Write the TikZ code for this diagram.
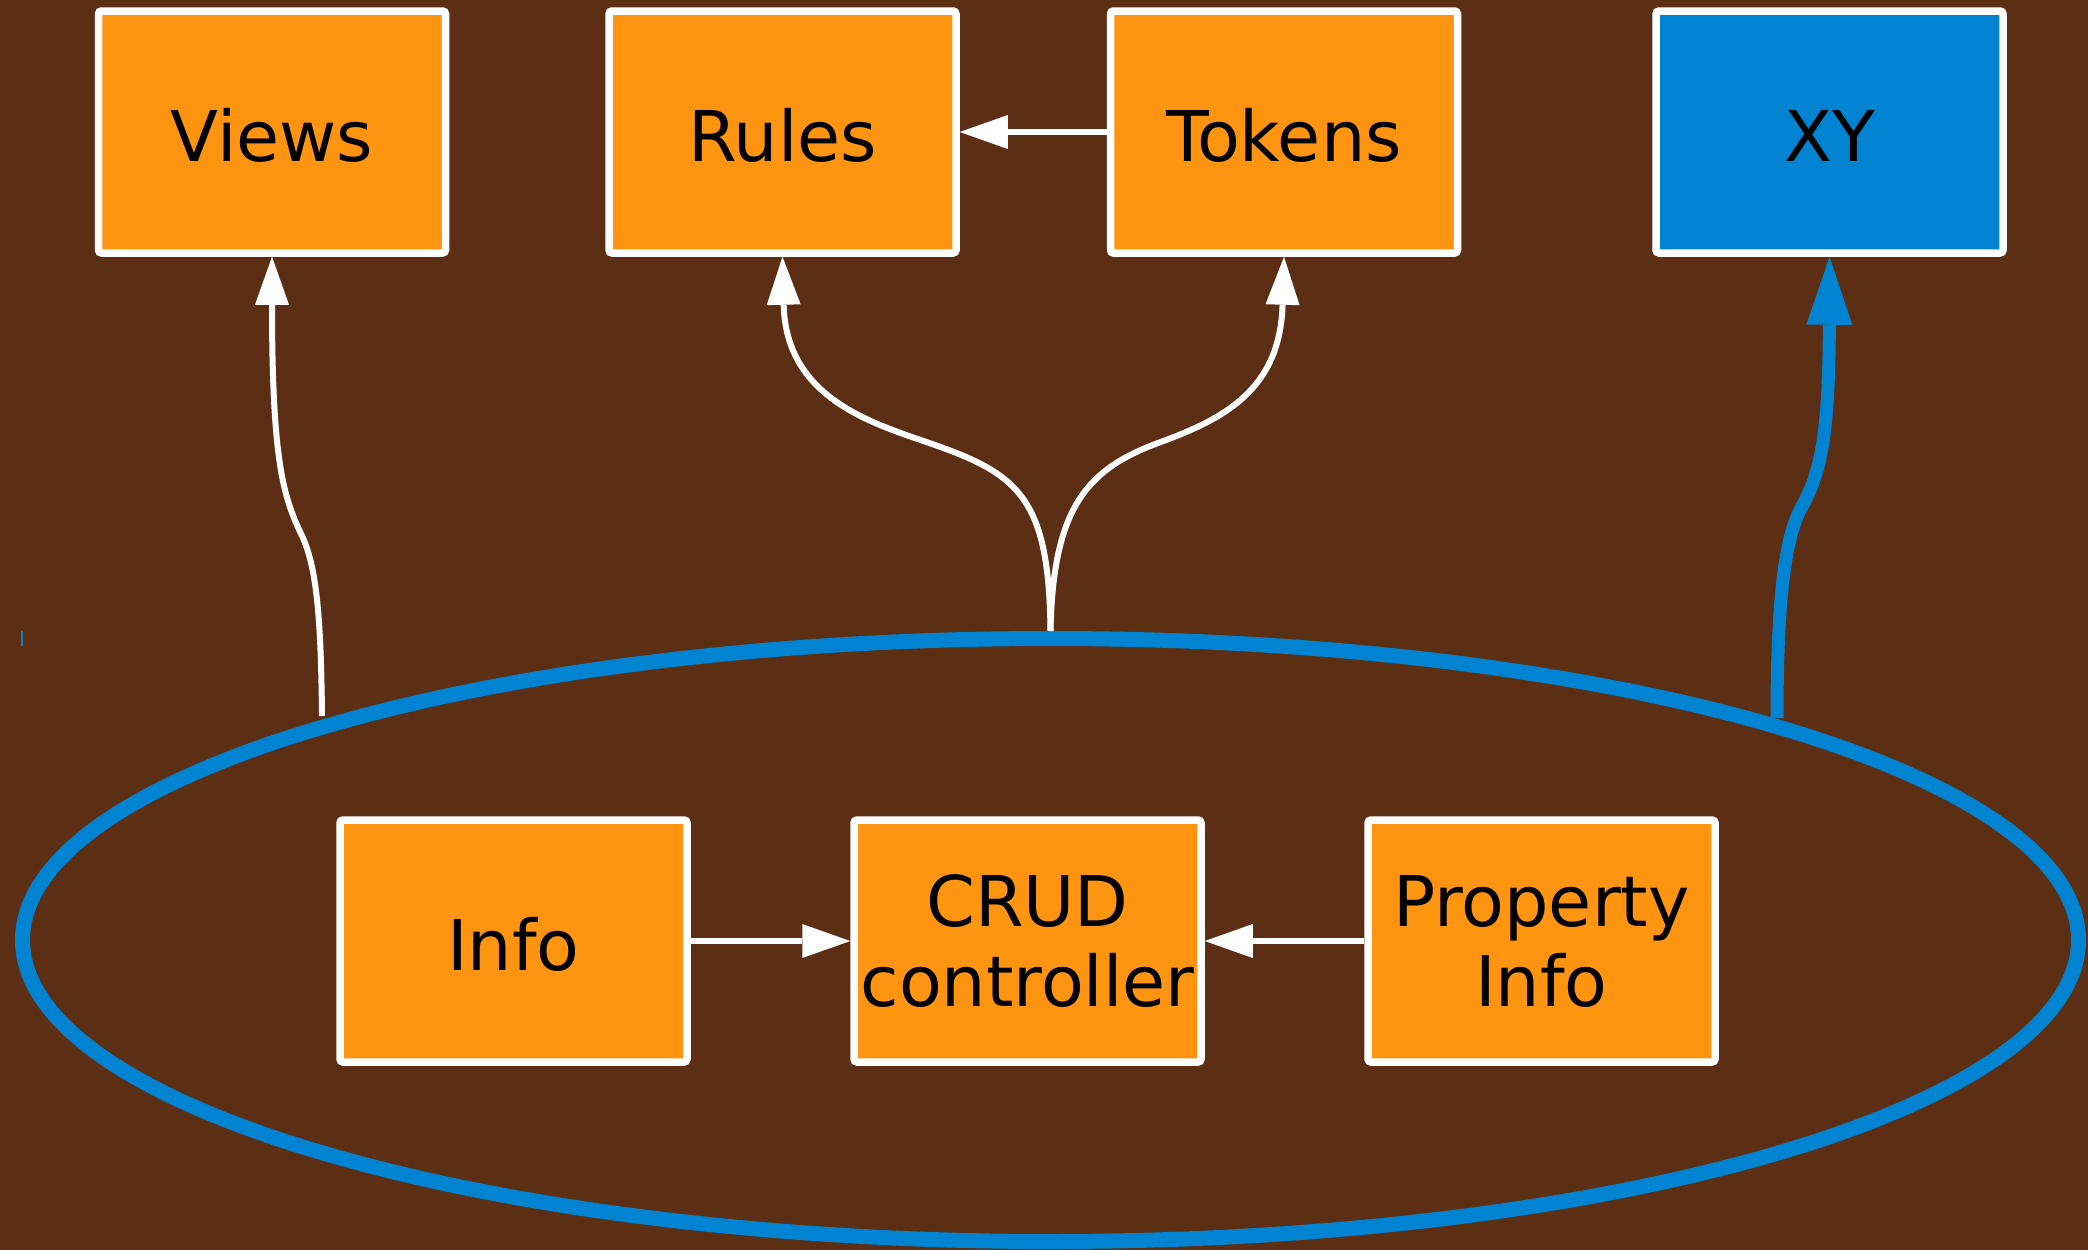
\documentclass[tikz,border=0pt]{standalone}
\usepackage{fontspec}
\setmainfont{DejaVu Sans}
\usetikzlibrary{shapes.geometric,arrows.meta}
\definecolor{bgbrown}{RGB}{92,47,21}
\definecolor{orangec}{RGB}{255,148,17}
\definecolor{bluec}{RGB}{0,131,208}
\tikzset{
  box/.style={draw=white, line width=7.5pt, fill=orangec, minimum width=347pt,
    minimum height=242pt, inner sep=0pt, rounded corners=3pt,
    font=\fontsize{70pt}{80pt}\selectfont, align=center, text=black},
  one/.style={text height=59pt, text depth=0pt},
  wedge/.style={draw=white, line width=6pt,
    -{Triangle[length=48pt, width=34pt, line width=0pt]}},
  bedge/.style={draw=bluec, line width=13pt,
    -{Triangle[length=68pt, width=46pt, line width=0pt]}},
  clusterstyle/.style={ellipse, draw=bluec, line width=15pt,
    minimum width=2056pt, minimum height=603pt, inner sep=0pt}
}
\begin{document}
\begin{tikzpicture}[x=1pt, y=-1pt]
  \fill[bgbrown] (0,0) rectangle (2088,1250);
  \useasboundingbox (0,0) rectangle (2088,1250);

  % cluster
  \node[clusterstyle] (cluster) at (1050.5,940) {};
  \draw[bluec, line width=1.5pt] (22,631) -- (22,646);

  % top row
  \node[box, one] (Views) at (272,132) {Views};
  \node[box, one] (Rules) at (782.5,132) {Rules};
  \node[box, one] (Tokens) at (1284,132) {Tokens};
  \node[box, one, fill=bluec] (XY) at (1829.5,132) {XY};

  % bottom row
  \node[box, one] (Info) at (513.5,941) {Info};
  \node[box] (CRUD) at (1027.5,941) {CRUD\\controller};
  \node[box] (Property) at (1541.5,941) {Property\\Info};

  % free ends on the cluster border
  \coordinate (vstart) at (322,716);
  \coordinate (xystart) at (1777,718);

  % edges
  \draw[wedge] (Tokens) -- (Rules);
  \draw[wedge] (Info) -- (CRUD);
  \draw[wedge] (Property) -- (CRUD);

  \draw[wedge] (vstart) .. controls (321,620) and (317,570) .. (303,538)
    .. controls (285,500) and (272,470) .. (Views.south);
  \draw[wedge] (cluster.north) .. controls (1049,500) and (1020,475) .. (935,445)
    .. controls (875,424) and (786,400) .. (Rules.south);
  \draw[wedge] (cluster.north) .. controls (1053,510) and (1085,470) .. (1158,443)
    .. controls (1224,419) and (1280,390) .. (Tokens.south);
  \draw[bedge] (xystart) .. controls (1777,600) and (1785,540) .. (1800,510)
    .. controls (1820,475) and (1829,440) .. (XY.south);
\end{tikzpicture}
\end{document}
